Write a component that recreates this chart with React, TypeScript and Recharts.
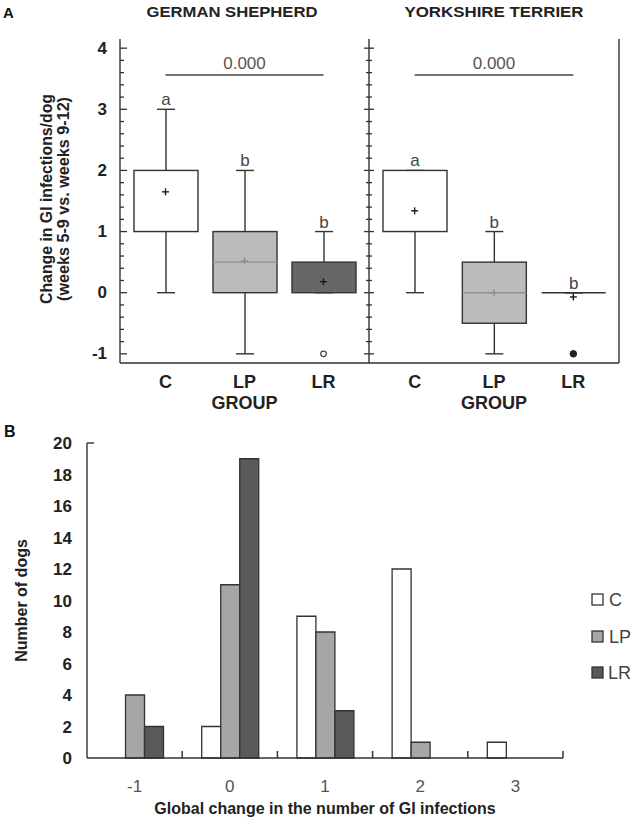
import React from 'react';
import {
  ComposedChart,
  BarChart,
  Bar,
  Scatter,
  XAxis,
  YAxis,
  ReferenceLine,
  LabelList,
  Legend,
  Label,
} from 'recharts';

// ---------- Panel A data ----------
const groups = ['C', 'LP', 'LR'];

// German Shepherd
const gsMin = [0, -1, 0];
const gsQ1 = [1, 0, 0];
const gsMedian = [2, 0.5, 0];
const gsQ3 = [2, 1, 0.5];
const gsMax = [3, 2, 1];
const gsMean = [1.65, 0.52, 0.18];
const gsOutlier = [null, null, -1];
const gsFarOutlier = [null, null, null];
const gsLetters = ['a', 'b', 'b'];
const gsPValue = '0.000';

// Yorkshire Terrier
const ytMin = [0, -1, 0];
const ytQ1 = [1, -0.5, 0];
const ytMedian = [1, 0, 0];
const ytQ3 = [2, 0.5, 0];
const ytMax = [2, 1, 0];
const ytMean = [1.34, 0, -0.07];
const ytOutlier = [null, null, null];
const ytFarOutlier = [null, null, -1];
const ytLetters = ['a', 'b', 'b'];
const ytPValue = '0.000';

const sigLevel = 3.56;
const yDomainA: [number, number] = [-1.15, 4.15];
const yTicksA = [
  -1, -0.8, -0.6, -0.4, -0.2, 0, 0.2, 0.4, 0.6, 0.8, 1, 1.2, 1.4, 1.6, 1.8, 2,
  2.2, 2.4, 2.6, 2.8, 3, 3.2, 3.4, 3.6, 3.8, 4,
];
const yMajorTicksA = [-1, 0, 1, 2, 3, 4];

// ---------- Panel B data ----------
const changeCats = ['-1', '0', '1', '2', '3'];
const countC = [0, 2, 9, 12, 1];
const countLP = [4, 11, 8, 1, 0];
const countLR = [2, 19, 3, 0, 0];
const yTicksB = [0, 2, 4, 6, 8, 10, 12, 14, 16, 18, 20];

// ---------- styles ----------
const NARROW = "'Liberation Sans Narrow', 'Arial Narrow', 'Liberation Sans', Arial, sans-serif";
const SANS = "'Liberation Sans', Arial, sans-serif";
const INK = '#333333';
const boxFill: Record<string, string> = { C: '#ffffff', LP: '#bcbcbc', LR: '#676767' };
const barFill = { C: '#ffffff', LP: '#a6a6a6', LR: '#595959' };

function buildRows(
  min: number[], q1: number[], med: number[], q3: number[], max: number[],
  mean: number[], out: (number | null)[], far: (number | null)[], letters: string[]
) {
  return groups.map((g, i) => ({
    name: g,
    whisker: [min[i], max[i]],
    box: [q1[i], q3[i]],
    median: med[i],
    mean: mean[i],
    out: out[i],
    far: far[i],
    letter: letters[i],
  }));
}

const gsRows = buildRows(gsMin, gsQ1, gsMedian, gsQ3, gsMax, gsMean, gsOutlier, gsFarOutlier, gsLetters);
const ytRows = buildRows(ytMin, ytQ1, ytMedian, ytQ3, ytMax, ytMean, ytOutlier, ytFarOutlier, ytLetters);

const barRows = changeCats.map((c, i) => ({ name: c, C: countC[i], LP: countLP[i], LR: countLR[i] }));

// ---------- shapes ----------
const WhiskerShape = (props: any) => {
  const { x, y, width, height } = props;
  const top = Math.min(y, y + height);
  const bottom = Math.max(y, y + height);
  const cx = x + width / 2;
  const cap = 9;
  return (
    <g>
      <line x1={cx} x2={cx} y1={top} y2={bottom} stroke={INK} strokeWidth={1.4} />
      <line x1={cx - cap} x2={cx + cap} y1={top} y2={top} stroke={INK} strokeWidth={1.4} />
      <line x1={cx - cap} x2={cx + cap} y1={bottom} y2={bottom} stroke={INK} strokeWidth={1.4} />
    </g>
  );
};

const BoxShape = (props: any) => {
  const { x, y, width, height, payload } = props;
  const top = Math.min(y, y + height);
  const h = Math.abs(height);
  const [lo, hi] = payload.box;
  const fill = boxFill[payload.name];
  const parts: React.ReactNode[] = [];
  if (h > 0.5) {
    parts.push(<rect key="r" x={x} y={top} width={width} height={h} fill={fill} stroke={INK} strokeWidth={1.4} />);
    if (payload.median > lo && payload.median < hi) {
      const my = top + (h * (hi - payload.median)) / (hi - lo);
      parts.push(<line key="m" x1={x} x2={x + width} y1={my} y2={my} stroke="#8f8f8f" strokeWidth={1.4} />);
    }
  } else {
    parts.push(<line key="f" x1={x} x2={x + width} y1={top} y2={top} stroke={INK} strokeWidth={1.4} />);
  }
  return <g>{parts}</g>;
};

const MeanShape = (props: any) => {
  const { cx, cy, payload } = props;
  if (cx == null || cy == null || isNaN(cy)) return null;
  const col = payload && payload.name === 'LP' ? '#8f8f8f' : '#1a1a1a';
  const a = 3.5;
  return (
    <g>
      <line x1={cx - a} x2={cx + a} y1={cy} y2={cy} stroke={col} strokeWidth={1.4} />
      <line x1={cx} x2={cx} y1={cy - a} y2={cy + a} stroke={col} strokeWidth={1.4} />
    </g>
  );
};

const OutShape = (props: any) => {
  const { cx, cy, payload } = props;
  if (!payload || payload.out == null || cy == null || isNaN(cy)) return null;
  return <circle cx={cx} cy={cy} r={2.8} fill="#fff" stroke="#444" strokeWidth={1.2} />;
};

const FarShape = (props: any) => {
  const { cx, cy, payload } = props;
  if (!payload || payload.far == null || cy == null || isNaN(cy)) return null;
  return <circle cx={cx} cy={cy} r={3.3} fill="#222" stroke="#222" strokeWidth={1} />;
};

// ---------- ticks ----------
const isMajor = (v: number) => yMajorTicksA.indexOf(v) >= 0;

const LeftTickA = (props: any) => {
  const { x, y, payload } = props;
  const major = isMajor(payload.value);
  return (
    <g>
      <line x1={x} x2={x + (major ? 7 : 4)} y1={y} y2={y} stroke={INK} strokeWidth={1.3} />
      {major && (
        <text x={x - 13} y={y} dy={5.5} textAnchor="end" fontFamily={NARROW} fontWeight="bold" fontSize={17} fill="#222">
          {payload.value}
        </text>
      )}
    </g>
  );
};

const CrossTickA = (props: any) => {
  const { x, y, payload } = props;
  const l = isMajor(payload.value) ? 5 : 3;
  return <line x1={x - l} x2={x + l} y1={y} y2={y} stroke={INK} strokeWidth={1.3} />;
};

const RightTickA = (props: any) => {
  const { x, y, payload } = props;
  const l = isMajor(payload.value) ? 5 : 3;
  return <line x1={x - l} x2={x} y1={y} y2={y} stroke={INK} strokeWidth={1.3} />;
};

const GroupTick = (props: any) => {
  const { x, y, payload } = props;
  return (
    <text x={x} y={y} dy={25} textAnchor="middle" fontFamily={NARROW} fontWeight="bold" fontSize={18} fill="#222">
      {payload.value}
    </text>
  );
};

const GroupTitle = (props: any) => {
  const vb = props.viewBox;
  return (
    <text x={vb.x + vb.width / 2} y={vb.y + 46} textAnchor="middle" fontFamily={NARROW} fontWeight="bold" fontSize={18} fill="#222">
      GROUP
    </text>
  );
};

const YTitleA = (props: any) => {
  const vb = props.viewBox;
  const cy = vb.y + vb.height / 2 - 2;
  const x1 = vb.x + 52;
  const x2 = vb.x + 69;
  return (
    <g fontFamily={NARROW} fontWeight="bold" fontSize={16} fill="#222">
      <text x={x1} y={cy} textAnchor="middle" transform={`rotate(-90, ${x1}, ${cy})`} textLength={210} lengthAdjust="spacingAndGlyphs">
        Change in GI infections/dog
      </text>
      <text x={x2} y={cy} textAnchor="middle" transform={`rotate(-90, ${x2}, ${cy})`} textLength={204} lengthAdjust="spacingAndGlyphs">
        (weeks 5-9 vs. weeks 9-12)
      </text>
    </g>
  );
};

function BoxSeries({ pValue }: { pValue: string }) {
  return [
    <Bar key="wh" xAxisId="wh" yAxisId="l" dataKey="whisker" barSize={64} shape={<WhiskerShape />} isAnimationActive={false}>
      <LabelList dataKey="letter" position="top" offset={4} fill="#444" fontSize={17} fontFamily={NARROW} />
    </Bar>,
    <Bar key="bx" xAxisId="bx" yAxisId="l" dataKey="box" barSize={64} shape={<BoxShape />} isAnimationActive={false} />,
    <Scatter key="mean" xAxisId="bx" yAxisId="l" dataKey="mean" shape={<MeanShape />} isAnimationActive={false} />,
    <Scatter key="out" xAxisId="bx" yAxisId="l" dataKey="out" shape={<OutShape />} isAnimationActive={false} />,
    <Scatter key="far" xAxisId="bx" yAxisId="l" dataKey="far" shape={<FarShape />} isAnimationActive={false} />,
    <ReferenceLine
      key="sig"
      xAxisId="bx"
      yAxisId="l"
      segment={[{ x: 'C', y: sigLevel }, { x: 'LR', y: sigLevel }]}
      stroke="#444"
      strokeWidth={1.6}
      label={{ value: pValue, position: 'top', offset: 6, fill: '#555', fontSize: 17, fontFamily: NARROW }}
    />,
  ];
}

function PanelALeft() {
  return (
    <ComposedChart width={370} height={420} data={gsRows} margin={{ top: 39, right: 1, bottom: 0, left: 0 }}>
      <XAxis xAxisId="top" orientation="top" dataKey="name" height={0} tick={false} tickLine={false} axisLine={{ stroke: INK, strokeWidth: 1.4 }} padding={{ left: 6, right: 6 }} />
      <XAxis xAxisId="bx" dataKey="name" height={57} tickLine={false} tickSize={0} tickMargin={0} tick={<GroupTick />} axisLine={{ stroke: INK, strokeWidth: 1.4 }} padding={{ left: 6, right: 6 }} interval={0}>
        <Label content={<GroupTitle />} />
      </XAxis>
      <XAxis xAxisId="wh" dataKey="name" hide padding={{ left: 6, right: 6 }} />
      <YAxis yAxisId="l" type="number" domain={yDomainA} ticks={yTicksA} interval={0} width={120} tickLine={false} tickSize={0} tickMargin={0} tick={<LeftTickA />} axisLine={{ stroke: INK, strokeWidth: 1.4 }}>
        <Label content={<YTitleA />} />
      </YAxis>
      {BoxSeries({ pValue: gsPValue })}
    </ComposedChart>
  );
}

function PanelARight() {
  return (
    <ComposedChart width={333} height={420} data={ytRows} margin={{ top: 39, right: 0, bottom: 0, left: 0 }}>
      <XAxis xAxisId="top" orientation="top" dataKey="name" height={0} tick={false} tickLine={false} axisLine={{ stroke: INK, strokeWidth: 1.4 }} padding={{ left: 6, right: 6 }} />
      <XAxis xAxisId="bx" dataKey="name" height={57} tickLine={false} tickSize={0} tickMargin={0} tick={<GroupTick />} axisLine={{ stroke: INK, strokeWidth: 1.4 }} padding={{ left: 6, right: 6 }} interval={0}>
        <Label content={<GroupTitle />} />
      </XAxis>
      <XAxis xAxisId="wh" dataKey="name" hide padding={{ left: 6, right: 6 }} />
      <YAxis yAxisId="l" type="number" domain={yDomainA} ticks={yTicksA} interval={0} width={69} tickLine={false} tickSize={0} tickMargin={0} tick={<CrossTickA />} axisLine={{ stroke: INK, strokeWidth: 1.4 }} />
      <YAxis yAxisId="r" orientation="right" type="number" domain={yDomainA} ticks={yTicksA} interval={0} width={14} tickLine={false} tickSize={0} tickMargin={0} tick={<RightTickA />} axisLine={{ stroke: INK, strokeWidth: 1.4 }} />
      {BoxSeries({ pValue: ytPValue })}
    </ComposedChart>
  );
}

// ---------- Panel B ----------
const BTickY = (props: any) => {
  const { x, y, payload } = props;
  return (
    <g>
      {payload.value === 20 && <line x1={x} x2={x + 7} y1={y} y2={y} stroke={INK} strokeWidth={1.4} />}
      <text x={x - 15} y={y} dy={6} textAnchor="end" fontFamily={SANS} fontWeight="bold" fontSize={17} fill="#222">
        {payload.value}
      </text>
    </g>
  );
};

// category label plus a small upward tick at the right edge of each category band
const BTickX = (props: any) => {
  const { x, y, payload } = props;
  const half = Number(payload && payload.offset) || 0;
  const ex = x + half;
  return (
    <g>
      <line x1={ex} x2={ex} y1={y} y2={y - 7} stroke={INK} strokeWidth={1.5} />
      <text x={x} y={y} dy={34} textAnchor="middle" fontFamily={SANS} fontSize={17} fill="#555">
        {payload.value}
      </text>
    </g>
  );
};

const XTitleB = (props: any) => {
  const vb = props.viewBox;
  return (
    <text x={vb.x + vb.width / 2} y={vb.y + 56} textAnchor="middle" fontFamily={SANS} fontWeight="bold" fontSize={16} fill="#222">
      Global change in the number of GI infections
    </text>
  );
};

const YTitleB = (props: any) => {
  const vb = props.viewBox;
  const cy = vb.y + vb.height / 2;
  const x = vb.x + 27;
  return (
    <text x={x} y={cy} textAnchor="middle" transform={`rotate(-90, ${x}, ${cy})`} fontFamily={SANS} fontWeight="bold" fontSize={16} fill="#222">
      Number of dogs
    </text>
  );
};

const LegendContent = (props: any) => {
  const payload = props.payload || [];
  return (
    <div style={{ display: 'flex', flexDirection: 'column' }}>
      {payload.map((p: any) => (
        <div key={p.value} style={{ display: 'flex', alignItems: 'center', height: 36.5 }}>
          <svg width={14} height={14} style={{ marginRight: 4 }}>
            <rect x={1} y={1} width={11} height={11} fill={p.color} stroke={INK} strokeWidth={1.3} />
          </svg>
          <span style={{ fontFamily: SANS, fontSize: 18, color: '#444', lineHeight: '18px' }}>{p.value}</span>
        </div>
      ))}
    </div>
  );
};

function PanelB() {
  return (
    <BarChart width={633} height={408} data={barRows} margin={{ top: 23, right: 70, bottom: 0, left: 0 }} barCategoryGap="20.5%" barGap={0}>
      <XAxis dataKey="name" height={70} tickLine={false} tickSize={0} tickMargin={0} tick={<BTickX />} axisLine={{ stroke: INK, strokeWidth: 1.4 }} interval={0}>
        <Label content={<XTitleB />} />
      </XAxis>
      <YAxis type="number" domain={[0, 20]} ticks={yTicksB} interval={0} width={87} tickLine={false} tickSize={0} tickMargin={0} tick={<BTickY />} axisLine={{ stroke: INK, strokeWidth: 1.4 }}>
        <Label content={<YTitleB />} />
      </YAxis>
      <Legend layout="vertical" align="center" verticalAlign="middle" content={<LegendContent />} wrapperStyle={{ left: 591, top: 162, width: 40 }} />
      <Bar dataKey="C" name="C" fill={barFill.C} stroke={INK} strokeWidth={1.3} isAnimationActive={false} />
      <Bar dataKey="LP" name="LP" fill={barFill.LP} stroke={INK} strokeWidth={1.3} isAnimationActive={false} />
      <Bar dataKey="LR" name="LR" fill={barFill.LR} stroke={INK} strokeWidth={1.3} isAnimationActive={false} />
    </BarChart>
  );
}

export default function App() {
  return (
    <div style={{ position: 'absolute', left: 0, top: 0, width: 633, height: 828, background: '#fff', overflow: 'hidden' }}>
      <div style={{ position: 'absolute', left: 0, top: 0 }}>
        <PanelALeft />
      </div>
      <div style={{ position: 'absolute', left: 300, top: 0 }}>
        <PanelARight />
      </div>
      <div style={{ position: 'absolute', left: 0, top: 420 }}>
        <PanelB />
      </div>
      <svg width={633} height={828} style={{ position: 'absolute', left: 0, top: 0, pointerEvents: 'none' }}>
        <text x={3} y={18} fontFamily={SANS} fontWeight="bold" fontSize={15} fill="#111">A</text>
        <text x={4} y={437} fontFamily={SANS} fontWeight="bold" fontSize={16} fill="#111">B</text>
        <text x={232} y={17} textAnchor="middle" fontFamily={NARROW} fontWeight="bold" fontSize={15} fill="#222" textLength={171} lengthAdjust="spacingAndGlyphs">
          GERMAN SHEPHERD
        </text>
        <text x={494} y={17} textAnchor="middle" fontFamily={NARROW} fontWeight="bold" fontSize={15} fill="#222" textLength={179} lengthAdjust="spacingAndGlyphs">
          YORKSHIRE TERRIER
        </text>
      </svg>
    </div>
  );
}
